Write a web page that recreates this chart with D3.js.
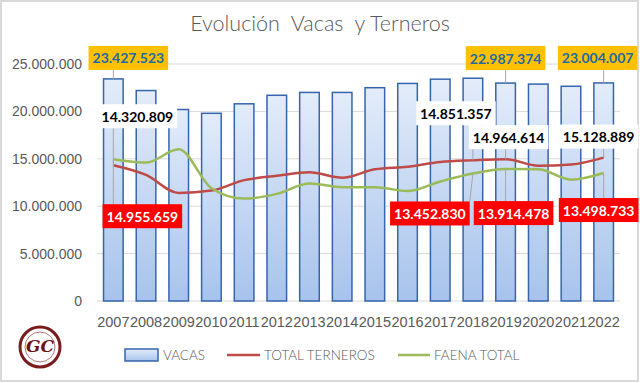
<!DOCTYPE html>
<html>
<head>
<meta charset="utf-8">
<script src="https://cdn.jsdelivr.net/npm/d3@7"></script>
<style>
  body { margin: 0; background: #fff; }
  svg { display: block; font-family: Lato, "Noto Sans", sans-serif; }
</style>
</head>
<body>
<div id="chart"></div>
<script>
var years = ["2007","2008","2009","2010","2011","2012","2013","2014","2015","2016","2017","2018","2019","2020","2021","2022"];
var vacas = [23427523, 22200000, 20200000, 19800000, 20800000, 21700000, 22000000, 22000000, 22500000, 22950000, 23400000, 23500000, 22987374, 22880000, 22650000, 23004007];
var terneros = [14320809, 13300000, 11400000, 11650000, 12750000, 13200000, 13570000, 13000000, 13900000, 14170000, 14660000, 14851357, 14964614, 14270000, 14400000, 15128889];
var faena = [14955659, 14600000, 16000000, 11900000, 10800000, 11300000, 12400000, 12000000, 12000000, 11600000, 12600000, 13452830, 13914478, 13900000, 12800000, 13498733];
var yTicks = [0, 5000000, 10000000, 15000000, 20000000, 25000000];

// label placement: which series / year, box centre offset from the point
var labels = [
  {s: "vacas", i: 0, dx: 15, dy: -21, style: "orange"},
  {s: "vacas", i: 12, dx: 0, dy: -25, style: "orange"},
  {s: "vacas", i: 15, dx: -6, dy: -25, style: "orange"},
  {s: "terneros", i: 0, dx: 24, dy: -49, style: "white"},
  {s: "terneros", i: 11, dx: -17, dy: -47, style: "white"},
  {s: "terneros", i: 12, dx: 3, dy: -22, style: "white"},
  {s: "terneros", i: 15, dx: -5, dy: -21, style: "white"},
  {s: "faena", i: 0, dx: 29, dy: 57, style: "red"},
  {s: "faena", i: 11, dx: -43, dy: 40, style: "red"},
  {s: "faena", i: 12, dx: 8, dy: 44, style: "red"},
  {s: "faena", i: 15, dx: -5, dy: 37, style: "red"}
];

var W = 640, H = 383;
var margin = {top: 64, right: 20, bottom: 82, left: 97};
var width = W - margin.left - margin.right,
    height = H - margin.top - margin.bottom;

var fmt = function(v) { return v === 0 ? "0" : d3.format(",")(v).replace(/,/g, "."); };

var svg = d3.select("#chart").append("svg")
    .attr("width", W)
    .attr("height", H);

var defs = svg.append("defs");
var gb = defs.append("linearGradient").attr("id", "gbar").attr("x1", "0%").attr("x2", "0%").attr("y1", "0%").attr("y2", "100%");
gb.append("stop").attr("offset", "0%").attr("stop-color", "#e3ecfa");
gb.append("stop").attr("offset", "100%").attr("stop-color", "#a7c3ec");

// outer frame
svg.append("rect")
    .attr("x", 1).attr("y", 1)
    .attr("width", W - 3).attr("height", H - 3)
    .attr("fill", "#fff")
    .attr("stroke", "#d9d9d9")
    .attr("stroke-width", 2);

svg.append("text")
    .attr("x", 320)
    .attr("y", 31)
    .attr("text-anchor", "middle")
    .attr("fill", "#595959")
    .style("font-size", "21.5px")
    .style("font-weight", "300")
    .style("white-space", "pre")
    .text("Evolución  Vacas  y Terneros");

var g = svg.append("g")
    .attr("transform", "translate(" + margin.left + "," + margin.top + ")");

var x = d3.scaleBand()
    .domain(years)
    .range([0, width])
    .paddingInner(0.4)
    .paddingOuter(0.2);

var y = d3.scaleLinear()
    .domain([0, 25000000])
    .range([height, 0]);

// gridlines
g.selectAll(".grid")
    .data(yTicks)
    .enter().append("line")
    .attr("class", "grid")
    .attr("x1", 0).attr("x2", width)
    .attr("y1", function(d) { return y(d); })
    .attr("y2", function(d) { return y(d); })
    .attr("stroke", "#d9d9d9")
    .attr("stroke-width", 1);

var yAxis = g.append("g")
    .call(d3.axisLeft(y).tickValues(yTicks).tickFormat(fmt).tickSize(0).tickPadding(15));
yAxis.select(".domain").remove();
yAxis.selectAll("text").attr("fill", "#595959").style("font-size", "14px").style("font-weight", "300");

var xAxis = g.append("g")
    .attr("transform", "translate(0," + height + ")")
    .call(d3.axisBottom(x).tickSize(0).tickPadding(16));
xAxis.select(".domain").remove();
xAxis.selectAll("text").attr("fill", "#595959").style("font-size", "14.5px").style("font-weight", "300");

// bars
g.selectAll(".bar")
    .data(vacas)
    .enter().append("rect")
    .attr("class", "bar")
    .attr("x", function(d, i) { return x(years[i]); })
    .attr("y", function(d) { return y(d); })
    .attr("width", x.bandwidth())
    .attr("height", function(d) { return height - y(d); })
    .attr("fill", "url(#gbar)")
    .attr("stroke", "#3565ad")
    .attr("stroke-width", 1.5);

var cx = function(i) { return x(years[i]) + x.bandwidth() / 2; };

var line = d3.line()
    .x(function(d, i) { return cx(i); })
    .y(function(d) { return y(d); })
    .curve(d3.curveMonotoneX);

g.append("path").datum(terneros)
    .attr("d", line)
    .attr("fill", "none")
    .attr("stroke", "#be4b48")
    .attr("stroke-width", 2.5);

g.append("path").datum(faena)
    .attr("d", line)
    .attr("fill", "none")
    .attr("stroke", "#9bbb59")
    .attr("stroke-width", 2.5);

// data labels
var seriesData = {vacas: vacas, terneros: terneros, faena: faena};
var boxStyle = {
  orange: {fill: "#ffc000", text: "#1f6aa5"},
  white: {fill: "#ffffff", text: "#000000"},
  red: {fill: "#ff0000", text: "#ffffff"}
};

labels.forEach(function(l) {
  var v = seriesData[l.s][l.i];
  var px = cx(l.i), py = y(v);
  var bx = px + l.dx, by = py + l.dy;
  var lg = g.append("g");
  var t = lg.append("text")
      .attr("x", bx).attr("y", by)
      .attr("text-anchor", "middle")
      .attr("dominant-baseline", "central")
      .attr("fill", boxStyle[l.style].text)
      .style("font-size", "14px")
      .style("font-weight", "bold")
      .text(fmt(v));
  var bb = t.node().getBBox();
  var bw = bb.width + 8, bh = 24;
  // leader line from box edge to point
  var ex = Math.max(bx - bw / 2, Math.min(bx + bw / 2, px));
  var ey = py < by ? by - bh / 2 : by + bh / 2;
  if (Math.abs(by - py) > bh / 2 + 4) {
    lg.insert("line", "text")
      .attr("x1", ex).attr("y1", ey)
      .attr("x2", px).attr("y2", py)
      .attr("stroke", "#a6a6a6")
      .attr("stroke-width", 1);
  }
  lg.insert("rect", "text")
      .attr("x", bx - bw / 2).attr("y", by - bh / 2)
      .attr("width", bw).attr("height", bh)
      .attr("fill", boxStyle[l.style].fill);
});

// legend
var leg = svg.append("g").attr("transform", "translate(0,355)");
leg.append("rect").attr("x", 125).attr("y", -6).attr("width", 33).attr("height", 12)
    .attr("fill", "url(#gbar)").attr("stroke", "#3565ad").attr("stroke-width", 1.5);
leg.append("text").attr("x", 163).attr("y", 0).attr("dominant-baseline", "central")
    .attr("fill", "#595959").style("font-size", "13.5px").style("font-weight", "300").text("VACAS");
leg.append("line").attr("x1", 227).attr("x2", 260).attr("y1", 0).attr("y2", 0)
    .attr("stroke", "#be4b48").attr("stroke-width", 2.5);
leg.append("text").attr("x", 264).attr("y", 0).attr("dominant-baseline", "central")
    .attr("fill", "#595959").style("font-size", "13.5px").style("font-weight", "300").text("TOTAL TERNEROS");
leg.append("line").attr("x1", 398).attr("x2", 430).attr("y1", 0).attr("y2", 0)
    .attr("stroke", "#9bbb59").attr("stroke-width", 2.5);
leg.append("text").attr("x", 434).attr("y", 0).attr("dominant-baseline", "central")
    .attr("fill", "#595959").style("font-size", "13.5px").style("font-weight", "300").text("FAENA TOTAL");

// logo
var logo = svg.append("g").attr("transform", "translate(40,347)");
logo.append("circle").attr("r", 20).attr("fill", "#fff").attr("stroke", "#7a1c1c").attr("stroke-width", 3);
logo.append("circle").attr("r", 15).attr("fill", "none").attr("stroke", "#7a1c1c").attr("stroke-width", 0.6);
logo.append("text").attr("y", 5).attr("text-anchor", "middle")
    .attr("fill", "#6b1414").style("font-size", "17px").style("font-style", "italic").style("font-weight", "bold")
    .style("font-family", "'DejaVu Serif', serif")
    .text("GC");
</script>
</body>
</html>
